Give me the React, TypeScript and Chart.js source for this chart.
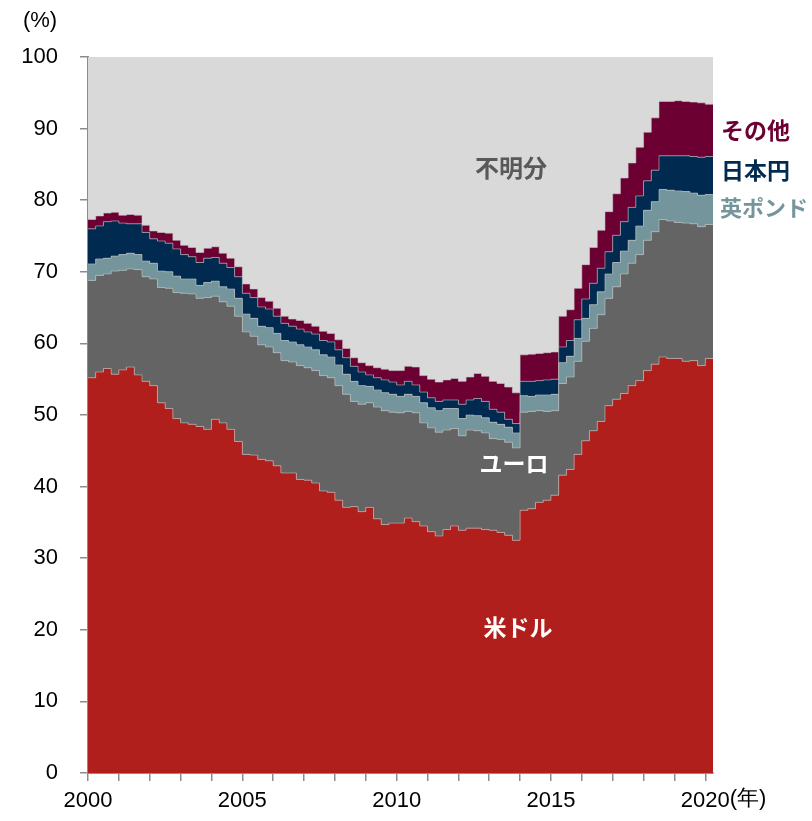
import React, { useEffect, useRef } from "react";
import { Chart, registerables } from "chart.js";

Chart.register(...registerables);

// Quarterly shares of global FX reserves (%), 2000Q1 .. 2020Q1
const startYear = 2000;
const usd = [
  55.2, 56.0, 56.5, 55.7, 56.3, 56.7, 55.6, 54.7, 54.1, 51.7,
  50.9, 49.5, 48.9, 48.7, 48.4, 48.0, 49.4, 48.9, 48.0, 46.3,
  44.5, 44.4, 43.8, 43.6, 42.9, 41.9, 41.9, 41.0, 40.9, 40.5,
  39.4, 39.2, 38.1, 37.1, 37.2, 36.5, 37.1, 35.5, 34.7, 34.9,
  34.9, 35.6, 35.1, 34.5, 33.7, 33.1, 34.0, 34.5, 33.9, 34.2,
  34.2, 34.0, 33.9, 33.6, 33.2, 32.5, 36.7, 36.9, 37.8, 38.1,
  38.8, 41.6, 42.4, 44.5, 46.4, 47.8, 49.1, 51.3, 52.2, 53.0,
  54.1, 54.8, 56.2, 57.1, 58.1, 57.9, 57.9, 57.5, 57.6, 56.9, 57.9,
];
const eur = [
  13.6, 13.5, 13.2, 14.4, 13.9, 13.7, 14.7, 14.6, 14.9, 16.1,
  16.8, 17.6, 18.1, 18.2, 17.9, 18.4, 17.2, 16.9, 17.2, 17.5,
  17.1, 16.6, 16.0, 15.9, 15.8, 15.7, 15.5, 15.9, 15.7, 15.7,
  16.1, 16.0, 16.0, 15.8, 14.7, 15.0, 14.6, 15.6, 15.9, 15.5,
  15.4, 14.9, 15.2, 14.4, 14.5, 14.5, 13.9, 13.6, 13.2, 13.7,
  13.6, 13.5, 12.8, 13.0, 13.0, 12.9, 13.7, 13.6, 12.8, 12.4,
  11.8, 12.8, 12.9, 13.0, 13.9, 14.3, 14.9, 15.0, 15.7, 16.7,
  17.1, 17.6, 18.2, 18.5, 19.2, 19.2, 19.0, 19.3, 19.1, 19.4, 18.7,
];
const gbp = [
  2.3, 2.3, 2.2, 2.1, 2.2, 2.2, 2.1, 2.2, 2.2, 2.3,
  2.3, 2.3, 2.0, 2.1, 1.8, 2.1, 2.1, 2.1, 2.4, 2.5,
  2.5, 2.5, 2.6, 2.7, 2.7, 2.8, 2.8, 2.9, 2.9, 2.9,
  2.9, 2.9, 2.9, 2.8, 2.8, 2.6, 2.3, 2.4, 2.5, 2.5,
  2.3, 2.4, 2.3, 2.8, 2.8, 3.0, 3.0, 2.8, 2.4, 2.1,
  2.1, 2.1, 2.3, 2.1, 2.1, 2.1, 2.3, 2.1, 2.2, 2.3,
  2.3, 2.9, 2.9, 3.2, 3.2, 3.3, 3.2, 3.4, 3.4, 3.2,
  3.2, 4.0, 4.2, 4.2, 4.2, 4.3, 4.4, 4.4, 4.3, 4.4, 4.2,
];
const jpy = [
  4.9, 4.6, 5.1, 4.9, 4.4, 4.1, 4.3, 4.0, 3.4, 4.2,
  4.0, 3.8, 3.4, 3.1, 3.2, 3.4, 3.3, 3.3, 3.0, 3.0,
  2.9, 2.9, 2.7, 2.6, 2.4, 2.4, 2.2, 2.2, 2.1, 2.2,
  2.0, 2.1, 2.1, 2.3, 2.1, 1.9, 1.6, 1.7, 1.8, 1.7,
  1.6, 1.8, 1.6, 1.5, 1.4, 1.3, 1.2, 1.2, 2.0, 2.1,
  2.4, 2.3, 1.8, 1.7, 1.1, 1.3, 2.0, 2.1, 2.0, 2.1,
  2.1, 2.2, 2.2, 2.6, 2.7, 3.0, 3.3, 3.1, 3.8, 4.1,
  4.6, 4.2, 4.1, 4.4, 4.7, 4.8, 4.9, 5.0, 5.1, 5.3, 5.3,
];
const other = [
  1.3, 1.4, 1.2, 1.2, 1.1, 1.3, 1.2, 1.0, 1.1, 1.2,
  1.4, 1.2, 1.3, 1.3, 1.4, 1.4, 1.5, 1.4, 1.3, 1.4,
  1.3, 1.2, 1.3, 1.1, 1.1, 1.0, 1.0, 1.2, 1.2, 1.1,
  1.3, 1.2, 1.4, 1.3, 1.2, 1.3, 1.3, 1.4, 1.5, 1.6,
  2.0, 2.1, 2.5, 2.3, 2.6, 2.7, 2.8, 3.0, 3.2, 3.2,
  3.5, 3.5, 3.9, 4.0, 4.5, 4.3, 3.7, 3.8, 3.8, 3.8,
  3.8, 4.3, 4.3, 4.4, 4.8, 5.0, 5.3, 5.6, 5.8, 6.1,
  6.2, 6.8, 6.8, 7.3, 7.6, 7.6, 7.7, 7.6, 7.6, 7.6, 7.3,
];
// remainder up to 100% = unallocated reserves
const unknown = usd.map((v, i) => +(100 - v - eur[i] - gbp[i] - jpy[i] - other[i]).toFixed(1));

const seriesNames = ["米ドル", "ユーロ", "英ポンド", "日本円", "その他", "不明分"];
const seriesColors = ["#B01F1C", "#646464", "#74959C", "#002A50", "#6D0033", "#D9D9D9"];
const yTicks = [0, 10, 20, 30, 40, 50, 60, 70, 80, 90, 100];
const xLabelYears = [2000, 2005, 2010, 2015, 2020];

const toPoints = (arr: number[]) => {
  const pts = arr.map((v, i) => ({ x: startYear + i / 4, y: v }));
  pts.push({ x: startYear + arr.length / 4, y: arr[arr.length - 1] });
  return pts;
};

const TICK_FONT = '"Liberation Sans", Arial, sans-serif';
const JP_FONT = '"Noto Sans CJK JP", "Noto Sans", sans-serif';
const TICK_SIZE = 22;

const labelsPlugin = {
  id: "inlineLabels",
  afterDraw(chart: any) {
    const ctx = chart.ctx;
    const xs = chart.scales.x;
    ctx.save();
    // (%) unit
    ctx.font = `${TICK_SIZE}px ${TICK_FONT}`;
    ctx.fillStyle = "#000";
    ctx.textAlign = "center";
    ctx.textBaseline = "middle";
    ctx.fillText("(%)", 40, 21);
    // (年) after 2020
    const px = xs.getPixelForValue(2020);
    const w = ctx.measureText("2020").width;
    ctx.textAlign = "left";
    ctx.textBaseline = "top";
    ctx.fillText("(年)", px + w / 2, xs.top + 8 + 7);

    ctx.font = `bold 24px ${JP_FONT}`;
    ctx.textAlign = "center";
    ctx.textBaseline = "middle";
    ctx.fillStyle = "#595959";
    ctx.fillText(seriesNames[5], 511, 168);
    ctx.font = `bold 23px ${JP_FONT}`;
    ctx.fillStyle = "#FFFFFF";
    ctx.fillText(seriesNames[1], 514, 463);
    ctx.fillText(seriesNames[0], 518, 627);
    ctx.textAlign = "left";
    ctx.fillStyle = seriesColors[4];
    ctx.fillText(seriesNames[4], 721, 130);
    ctx.fillStyle = seriesColors[3];
    ctx.fillText(seriesNames[3], 721, 170);
    ctx.fillStyle = seriesColors[2];
    ctx.font = `bold 22px ${JP_FONT}`;
    ctx.fillText(seriesNames[2], 720, 208);
    ctx.restore();
  },
};

export default function App() {
  const ref = useRef<HTMLCanvasElement | null>(null);

  useEffect(() => {
    if (!ref.current) return;
    const all = [usd, eur, gbp, jpy, other, unknown];
    const datasets = all.map((arr, i) => ({
      label: seriesNames[i],
      data: toPoints(arr),
      stepped: true,
      fill: i === 0 ? "origin" : "-1",
      backgroundColor: seriesColors[i],
      borderColor: i === 5 ? "rgba(0,0,0,0)" : "rgba(200,200,200,0.55)",
      borderWidth: i === 5 ? 0 : 1,
      pointRadius: 0,
      pointHoverRadius: 0,
    }));

    const chart = new Chart(ref.current, {
      type: "line",
      data: { datasets } as any,
      options: {
        responsive: false,
        animation: false,
        devicePixelRatio: 1,
        layout: { padding: { left: 0, right: 99, top: 57, bottom: 0 } },
        plugins: {
          legend: { display: false },
          tooltip: { enabled: false },
        },
        scales: {
          x: {
            type: "linear",
            min: startYear,
            max: startYear + usd.length / 4,
            afterFit: (s: any) => {
              s.height = 48;
            },
            grid: {
              display: true,
              drawOnChartArea: false,
              drawTicks: true,
              tickLength: 8,
              color: "#8C8C8C",
              lineWidth: 1.5,
            },
            border: { display: true, color: "#8C8C8C", width: 2 },
            ticks: {
              stepSize: 1,
              includeBounds: false,
              autoSkip: false,
              maxRotation: 0,
              padding: 7,
              color: "#000",
              font: { family: TICK_FONT, size: TICK_SIZE },
              callback: (v: any) => (xLabelYears.includes(Number(v)) ? String(v) : ""),
            },
          },
          y: {
            stacked: true,
            min: yTicks[0],
            max: yTicks[yTicks.length - 1],
            afterFit: (s: any) => {
              s.width = 88;
            },
            afterBuildTicks: (s: any) => {
              s.ticks = yTicks.map((v) => ({ value: v }));
            },
            grid: {
              display: true,
              drawOnChartArea: false,
              drawTicks: true,
              tickLength: 8,
              color: "#8C8C8C",
              lineWidth: 1.5,
            },
            border: { display: true, color: "#8C8C8C", width: 2 },
            ticks: {
              padding: 22,
              color: "#000",
              font: { family: TICK_FONT, size: TICK_SIZE },
            },
          },
        },
      },
      plugins: [labelsPlugin],
    } as any);

    return () => chart.destroy();
  }, []);

  return (
    <div style={{ position: "absolute", left: 0, top: 0, width: 812, height: 821 }}>
      <canvas ref={ref} width={812} height={821} style={{ display: "block" }} />
    </div>
  );
}
